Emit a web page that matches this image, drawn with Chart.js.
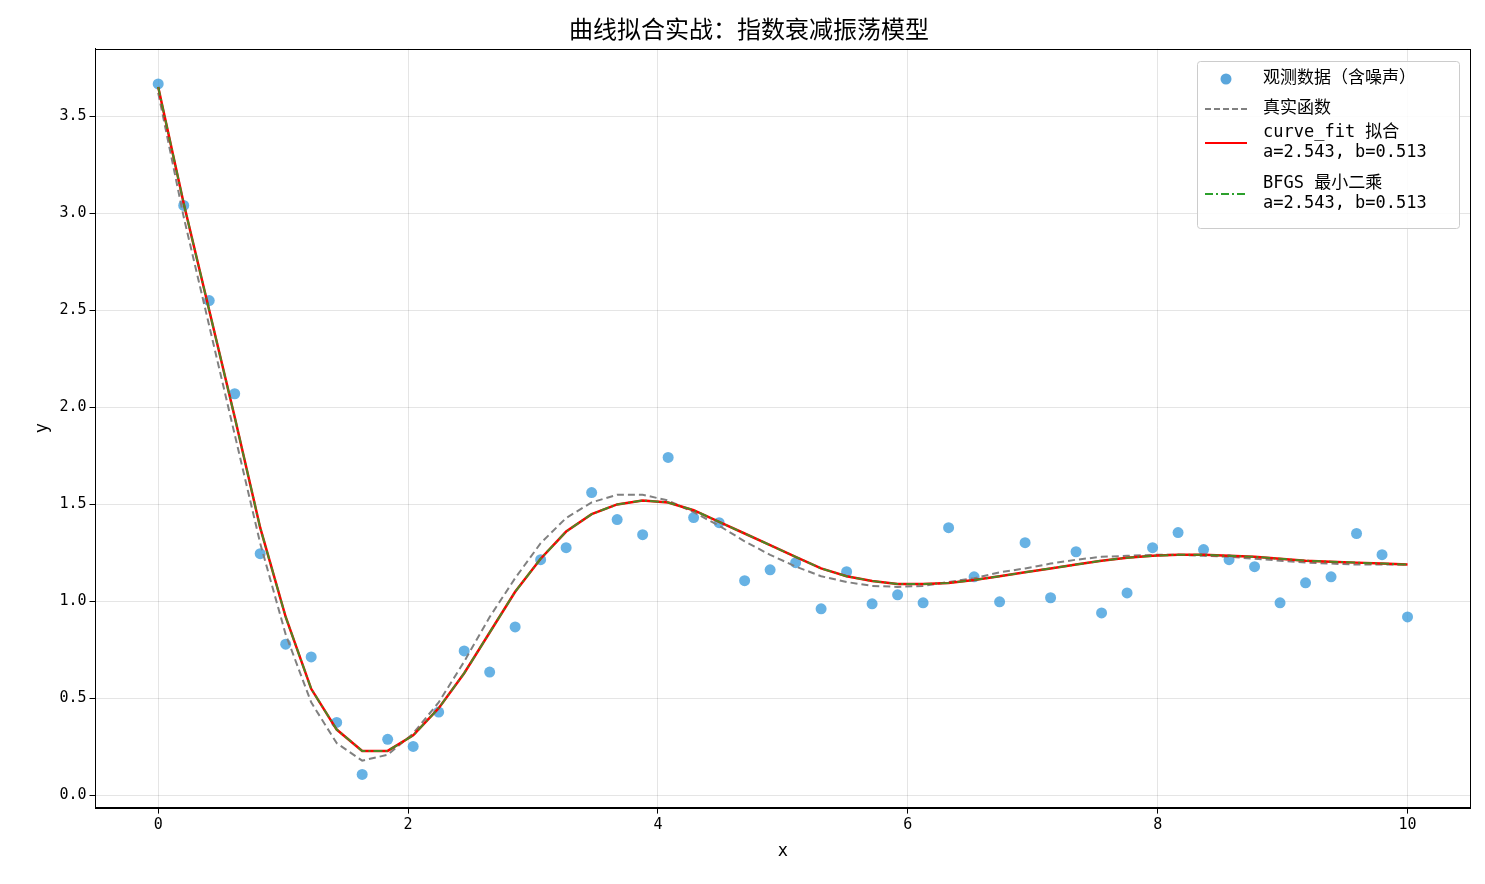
<!DOCTYPE html>
<html><head><meta charset="utf-8">
<script src="https://cdn.jsdelivr.net/npm/chart.js@4"></script>
<style>html,body{margin:0;background:#fff}#w{width:1485px;height:884px}</style>
</head><body><div id="w"><canvas id="c"></canvas></div>
<script>
const xs = Array.from({length:50},(_, i)=>+(i*10/49).toFixed(4));
const observed = [3.666,3.04,2.55,2.07,1.246,0.78,0.714,0.377,0.109,0.29,0.253,0.43,0.745,0.636,0.869,1.215,1.277,1.561,1.422,1.344,1.742,1.432,1.406,1.107,1.163,1.2,0.962,1.153,0.988,1.034,0.993,1.38,1.127,0.998,1.303,1.019,1.256,0.941,1.044,1.277,1.355,1.267,1.215,1.179,0.993,1.096,1.127,1.35,1.241,0.92];
const trueY = [3.62,2.98,2.42,1.86,1.30,0.83,0.48,0.27,0.18,0.21,0.32,0.48,0.69,0.92,1.12,1.30,1.43,1.51,1.55,1.55,1.52,1.46,1.39,1.31,1.24,1.18,1.13,1.10,1.08,1.075,1.08,1.10,1.12,1.15,1.17,1.195,1.215,1.23,1.235,1.24,1.24,1.235,1.23,1.22,1.21,1.20,1.195,1.19,1.19,1.19];
const fitY = [3.65,3.05,2.5,1.95,1.38,0.92,0.55,0.34,0.23,0.23,0.31,0.45,0.63,0.84,1.05,1.22,1.36,1.45,1.50,1.52,1.51,1.47,1.41,1.35,1.29,1.23,1.17,1.13,1.105,1.09,1.09,1.095,1.11,1.13,1.15,1.17,1.19,1.21,1.225,1.235,1.24,1.24,1.235,1.23,1.22,1.21,1.205,1.2,1.195,1.19];
const bfgsY = fitY.slice();
const xTicks=[0,2,4,6,8,10], yTicks=[0,0.5,1,1.5,2,2.5,3,3.5];
const F='"Noto Sans CJK SC", "DejaVu Sans", sans-serif';
const M='"DejaVu Sans Mono", "Noto Sans CJK SC", monospace';
const pts=a=>a.map((y,i)=>({x:xs[i],y}));
const legendItems=[
 {type:'dot',label:['观测数据（含噪声）']},
 {type:'line',color:'#808080',dash:[6,3],label:['真实函数']},
 {type:'line',color:'#ff0000',dash:[],label:['curve_fit 拟合','a=2.543, b=0.513']},
 {type:'line',color:'#2ca02c',dash:[8,3,2,3],label:['BFGS 最小二乘','a=2.543, b=0.513']}];
const framePlugin={id:'fr',afterDraw(ch){const a=ch.chartArea,c=ch.ctx;c.save();c.strokeStyle='#000';c.lineWidth=1;
 c.strokeRect(Math.round(a.left)+.5,Math.round(a.top)+.5,Math.round(a.right-a.left),Math.round(a.bottom-a.top));c.restore();}};
const legendPlugin={id:'lg',afterDraw(ch){const c=ch.ctx,x0=1197,y0=61,w=262,h=167;c.save();
 c.fillStyle='rgba(255,255,255,0.85)';c.strokeStyle='#ccc';c.lineWidth=1;c.beginPath();c.roundRect(x0+.5,y0+.5,w,h,3);c.fill();c.stroke();
 c.font='17px '+M;c.textBaseline='middle';
 let y=y0+18;
 legendItems.forEach(it=>{const ly=it.label.length>1?y+4:y;
  if(it.type==='dot'){c.fillStyle='#5aa6dc';c.beginPath();c.arc(x0+29,ly,5.5,0,7);c.fill();}
  else{c.strokeStyle=it.color;c.lineWidth=2;c.setLineDash(it.dash);c.beginPath();c.moveTo(x0+8,ly);c.lineTo(x0+50,ly);c.stroke();c.setLineDash([]);}
  c.fillStyle='#000';it.label.forEach((t,k)=>c.fillText(t,x0+66,y+k*20-(it.label.length>1?6:0)));
  y+= it.label.length>1?51:30;});
 c.restore();}};
new Chart(document.getElementById('c'),{type:'scatter',
 data:{datasets:[
  {label:'obs',data:pts(observed),backgroundColor:'rgba(52,152,219,0.75)',borderWidth:0,pointRadius:5.5,order:4},
  {label:'true',type:'line',data:pts(trueY),borderColor:'#808080',borderDash:[7,4],borderWidth:2,pointRadius:0,order:3},
  {label:'fit',type:'line',data:pts(fitY),borderColor:'#ff0000',borderWidth:2.5,pointRadius:0,order:2},
  {label:'bfgs',type:'line',data:pts(bfgsY),borderColor:'rgba(44,160,44,0.85)',borderDash:[9,3,2,3],borderWidth:2,pointRadius:0,order:1}]},
 options:{responsive:true,maintainAspectRatio:false,animation:false,
  layout:{padding:{left:28,right:15,top:6,bottom:18}},
  plugins:{legend:{display:false},tooltip:{enabled:false},
   title:{display:true,text:'曲线拟合实战：指数衰减振荡模型',font:{family:F,size:24,weight:'normal'},color:'#000',padding:{top:8,bottom:6}}},
  scales:{
   x:{min:-0.502,max:10.5,afterBuildTicks:a=>{a.ticks=xTicks.map(v=>({value:v}))},
    ticks:{font:{family:M,size:15},color:'#000',callback:v=>v},grid:{color:'rgba(0,0,0,0.1)',tickColor:'#000',tickLength:6},border:{color:'#000'},
    title:{display:true,text:'x',font:{family:M,size:17},color:'#000'}},
   y:{min:-0.062,max:3.847,afterBuildTicks:a=>{a.ticks=yTicks.map(v=>({value:v}))},
    ticks:{font:{family:M,size:15},color:'#000',callback:v=>v.toFixed(1)},grid:{color:'rgba(0,0,0,0.1)',tickColor:'#000',tickLength:6},border:{color:'#000'},
    title:{display:true,text:'y',font:{family:M,size:17},color:'#000'}}}},
 plugins:[framePlugin,legendPlugin]});
</script></body></html>
